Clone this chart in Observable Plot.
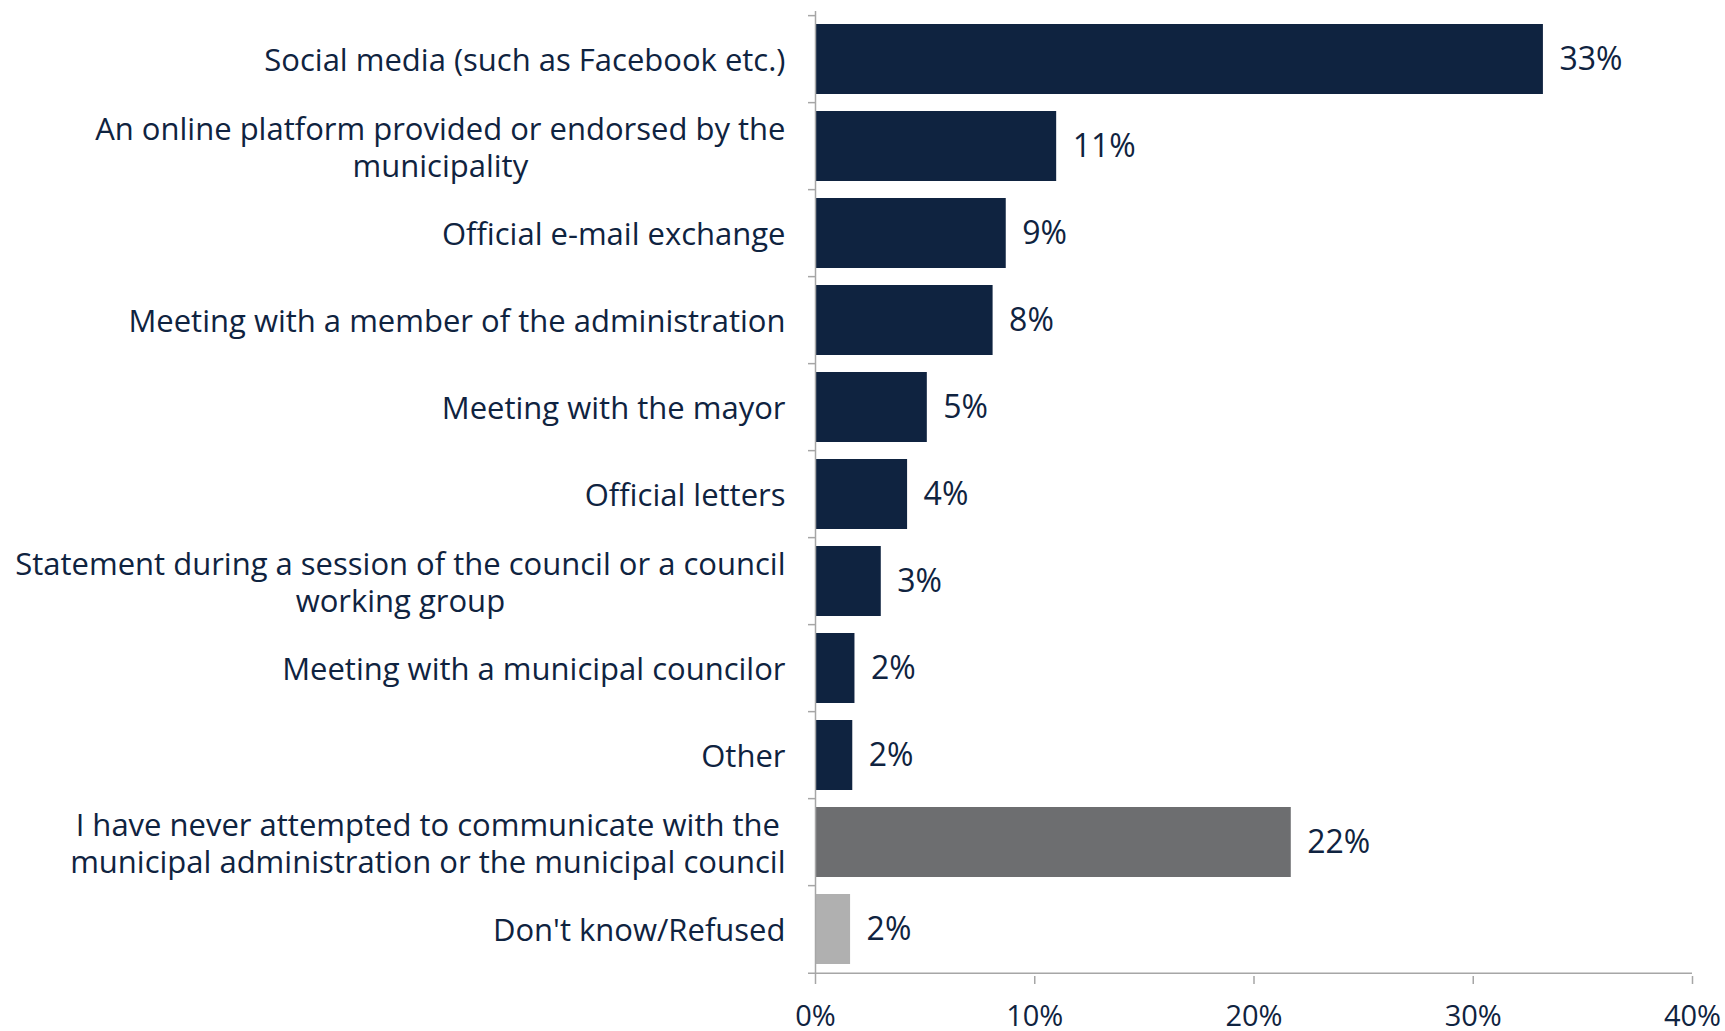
<!DOCTYPE html>
<html>
<head>
<meta charset="utf-8">
<script src="https://cdn.jsdelivr.net/npm/d3@7"></script>
<script src="https://cdn.jsdelivr.net/npm/@observablehq/plot@0.6"></script>
<style>
  html, body { margin: 0; padding: 0; background: #ffffff; }
  #chart svg { display: block; }
</style>
</head>
<body>
<div id="chart"></div>
<script>
const categories = [
  "Social media (such as Facebook etc.)",
  "An online platform provided or endorsed by the\nmunicipality",
  "Official e-mail exchange",
  "Meeting with a member of the administration",
  "Meeting with the mayor",
  "Official letters",
  "Statement during a session of the council or a council\nworking group",
  "Meeting with a municipal councilor",
  "Other",
  "I have never attempted to communicate with the\nmunicipal administration or the municipal council",
  "Don't know/Refused"
];
const values = [33.2, 11.0, 8.7, 8.1, 5.1, 4.2, 3.0, 1.8, 1.7, 21.7, 1.6];
const valueLabels = ["33%", "11%", "9%", "8%", "5%", "4%", "3%", "2%", "2%", "22%", "2%"];
const barColors = ["#0f2340", "#0f2340", "#0f2340", "#0f2340", "#0f2340", "#0f2340", "#0f2340", "#0f2340", "#0f2340", "#6d6e70", "#b0b0b0"];
const xTicks = [0, 10, 20, 30, 40];

const navy = "#0f2340";
const axisGrey = "#a6a6a6";

const data = categories.map((c, i) => ({cat: c, value: values[i], label: valueLabels[i], color: barColors[i]}));

const W = 1725, H = 1031;
const mTop = 11, mBottom = 55, mLeft = 815, mRight = 33;
const step = (H - mTop - mBottom) / categories.length;
const tickLen = 7 / ((W - mLeft - mRight) / 40); // tick length in x units

const plot = Plot.plot({
  width: W,
  height: H,
  marginTop: mTop,
  marginBottom: mBottom,
  marginLeft: mLeft,
  marginRight: mRight,
  style: {fontFamily: "'Open Sans', sans-serif", fontSize: "28px", color: navy, background: "#ffffff", overflow: "visible"},
  x: {domain: [0, 40], label: null},
  y: {domain: categories, paddingInner: 0.2, paddingOuter: 0.1, axis: null},
  color: {type: "identity"},
  marks: [
    Plot.barX(data, {x: "value", y: "cat", fill: "color"}),
    // vertical axis line
    Plot.ruleX([0], {stroke: axisGrey, strokeWidth: 1.5}),
    // y tick marks at band boundaries
    Plot.ruleY(categories, {y: d => d, x1: -tickLen, x2: 0, dy: -step / 2, stroke: axisGrey, strokeWidth: 1.5}),
    // bottom axis line with its left tick
    Plot.ruleY([categories[categories.length - 1]], {y: d => d, x1: -tickLen, x2: 40, dy: step / 2, stroke: axisGrey, strokeWidth: 1.5}),
    Plot.axisX(xTicks, {
      tickSize: 8,
      tickPadding: 21,
      tickFormat: d => d + "%",
      label: null,
      stroke: axisGrey,
      strokeWidth: 1.5,
      fill: navy,
      fontSize: 29
    }),
    Plot.text(data, {
      x: 0, y: "cat", text: "cat",
      textAnchor: "end", dx: -30,
      lineHeight: 1.2,
      fontSize: 31, fill: navy
    }),
    Plot.text(data, {
      x: "value", y: "cat", text: "label",
      textAnchor: "start", dx: 16,
      fontSize: 32, fill: navy
    })
  ]
});

document.getElementById("chart").appendChild(plot);

// center-align the lines of multi-line category labels within their right-aligned block
plot.querySelectorAll("text").forEach(t => {
  const spans = t.querySelectorAll("tspan");
  if (spans.length > 1) {
    let maxW = 0;
    spans.forEach(s => { maxW = Math.max(maxW, s.getComputedTextLength()); });
    t.setAttribute("text-anchor", "middle");
    spans.forEach(s => s.setAttribute("x", -maxW / 2));
  }
});
</script>
</body>
</html>
